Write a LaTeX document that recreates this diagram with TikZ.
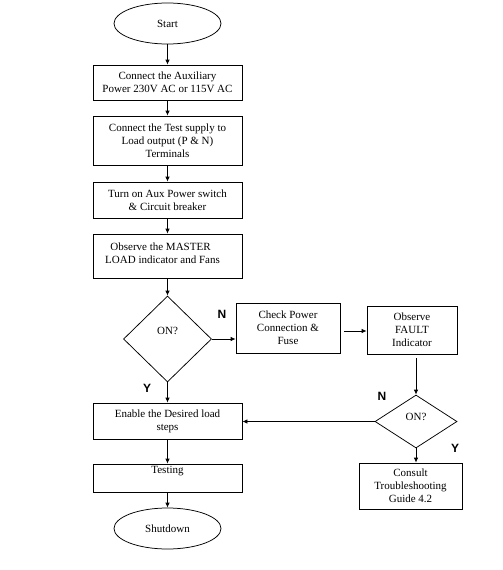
\documentclass[tikz,border=0pt]{standalone}
\usepackage{fontspec}
\setmainfont{Liberation Serif}
\newfontfamily\lblfont{Liberation Sans}
\usetikzlibrary{shapes.geometric,arrows.meta,calc}
\tikzset{
  base/.style={draw=black, line width=0.75pt, font=\fontsize{11pt}{13pt}\selectfont, align=center, inner sep=1pt},
  procbox/.style={base, rectangle},
  termnode/.style={base, ellipse, minimum width=107pt, minimum height=41pt},
  decide/.style={base, diamond},
  flowarrow/.style={draw=black, line width=0.75pt, -{Latex[length=5pt,width=4.5pt]}},
  flowline/.style={draw=black, line width=0.75pt},
  branch/.style={font=\lblfont\bfseries\fontsize{12pt}{14pt}\selectfont, inner sep=0pt}
}
\begin{document}
\begin{tikzpicture}[x=1pt,y=-1pt]
\useasboundingbox (0,0) rectangle (503,570);
\node[termnode] (start) at (167.5,23.5) {Start};
\node[procbox, minimum width=149pt, minimum height=35pt] (b1) at (167.5,82.5) {Connect the Auxiliary\\Power 230V AC or 115V AC};
\node[procbox, minimum width=149pt, minimum height=49pt] (b2) at (167.5,140.5) {Connect the Test supply to\\Load output (P \& N)\\Terminals};
\node[procbox, minimum width=149pt, minimum height=36pt] (b3) at (167.5,200) {Turn on Aux Power switch\\\& Circuit breaker};
\node[procbox, minimum width=149pt, minimum height=44pt, text depth=6pt] (b4) at (167.5,256) {\hspace*{-14pt}Observe the MASTER\\\hspace*{-10pt}LOAD indicator and Fans};
\node[decide, minimum width=88pt, minimum height=86pt] (d1) at (167.5,339) {\raisebox{5pt}[0pt][0pt]{ON?}};
\node[procbox, minimum width=104pt, minimum height=50pt] (cp) at (288,328) {Check Power\\Connection \&\\Fuse};
\node[procbox, minimum width=90pt, minimum height=48pt] (of) at (412,330) {Observe\\FAULT\\Indicator};
\node[decide, minimum width=82pt, minimum height=53pt] (d2) at (416,421.5) {\raisebox{1pt}[0pt][0pt]{ON?}};
\node[procbox, minimum width=103pt, minimum height=46pt] (cb) at (410.5,486) {Consult\\Troubleshooting\\Guide 4.2};
\node[procbox, minimum width=149pt, minimum height=36pt] (b5) at (167.5,421) {Enable the Desired load\\steps};
\node[procbox, minimum width=149pt, minimum height=28pt] (b6) at (167.5,478) {\raisebox{4.5pt}[0pt][0pt]{Testing}};
\node[termnode] (stop) at (167.5,528.5) {Shutdown};

\node[branch] (n1) at (222,314) {N};
\node[branch] (y1) at (147,388) {Y};
\node[branch] (n2) at (382,396) {N};
\node[branch] (y2) at (455,448) {Y};

\draw[flowarrow] (start) -- (b1);
\draw[flowarrow] (b1) -- (b2);
\draw[flowarrow] (b2) -- (b3);
\draw[flowarrow] (b3) -- (b4);
\draw[flowarrow] (b4) -- (d1);
\draw[flowarrow] (d1) -- (b5);
\draw[flowarrow] (b5) -- (b6);
\draw[flowarrow] (b6) -- (stop);
\draw[flowarrow] (d1.east) -- (d1.east -| cp.west);
\draw[flowarrow] ([xshift=4pt,yshift=-3pt]cp.east) -- ([yshift=-3pt]cp.east -| of.west);
\draw[flowarrow, shorten <=4pt] (of.south -| d2.north) -- (d2.north);
\draw[flowarrow] (d2.west) -- (d2.west -| b5.east);
\draw[flowarrow] (d2.south) -- (d2.south |- cb.north);
\end{tikzpicture}
\end{document}
